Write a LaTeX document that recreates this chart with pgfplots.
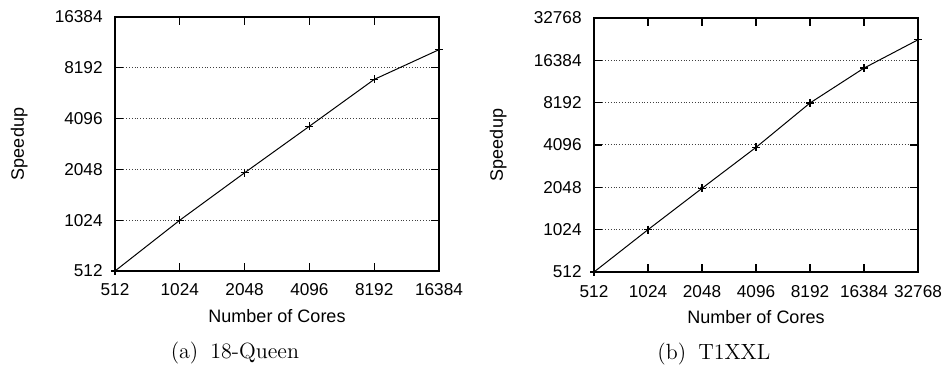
\documentclass[border=0pt]{standalone}
\usepackage{fontspec}
\usepackage{pgfplots}
\pgfplotsset{compat=1.18}
\newfontfamily\arial{Liberation Sans}
\pgfplotsset{
  myaxis/.style={
    scale only axis, width=162pt, height=127pt,
    axis line style={line width=0.6pt},
    tick style={line width=0.6pt, black},
    major tick length=4pt,
    tick align=inside,
    xtick pos=both, ytick pos=both,
    ymajorgrids, major grid style={densely dotted, line width=0.5pt, black!75},
    tick label style={font=\arial\fontsize{8.6}{10}\selectfont},
    xticklabel style={anchor=base, yshift=-12.5pt},
    yticklabel style={anchor=east, inner sep=0pt, xshift=-6pt},
    label style={font=\arial\fontsize{9}{10}\selectfont},
    xlabel={Number of Cores}, ylabel={Speedup},
    xlabel style={at={(axis description cs:0.5,-0.177)}, anchor=center},
    ylabel style={at={(axis description cs:-0.296,0.5)}, anchor=center},
    clip mode=individual,
  },
}
\begin{document}
\begin{tikzpicture}
\useasboundingbox (0,0) rectangle (473pt,182.5pt);
\begin{loglogaxis}[myaxis, log basis x=2, log basis y=2, at={(57.5pt,47pt)}, anchor=south west,
  xmin=512, xmax=16384, ymin=512, ymax=16384,
  xtick={512,1024,2048,4096,8192,16384},
  xticklabels={512,1024,2048,4096,8192,16384},
  ytick={512,1024,2048,4096,8192,16384},
  yticklabels={512,1024,2048,4096,8192,16384},
]
\addplot[black, line width=0.5pt, mark=+, mark size=2pt, mark options={line width=0.6pt}] coordinates {(512,512) (1024,1024) (2048,1956) (4096,3690) (8192,6990) (16384,10490)};
\node[font=\fontsize{11}{13}\selectfont, anchor=center] at (axis description cs:0.370,-0.323) {(a)\hspace{0.55em}18-Queen};
\end{loglogaxis}
\begin{loglogaxis}[myaxis, log basis x=2, log basis y=2, at={(297pt,46.5pt)}, anchor=south west,
  xmin=512, xmax=32768, ymin=512, ymax=32768,
  xtick={512,1024,2048,4096,8192,16384,32768},
  xticklabels={512,1024,2048,4096,8192,16384,32768},
  ytick={512,1024,2048,4096,8192,16384,32768},
  yticklabels={512,1024,2048,4096,8192,16384,32768},
]
\addplot[black, line width=0.5pt, mark=+, mark size=2pt, mark options={line width=0.6pt}] coordinates {(512,512) (1024,1024) (2048,2015) (4096,3940) (8192,8150) (16384,14430) (32768,22940)};
\node[font=\fontsize{11}{13}\selectfont, anchor=center] at (axis description cs:0.370,-0.323) {(b)\hspace{0.55em}T1XXL};
\end{loglogaxis}
\end{tikzpicture}
\end{document}
